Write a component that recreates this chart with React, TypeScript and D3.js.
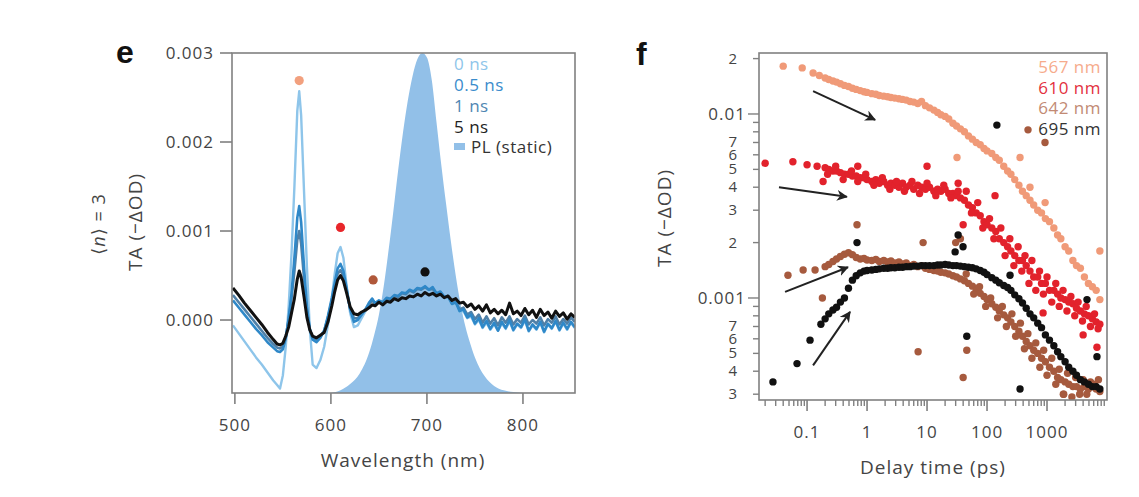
import React from 'react';
import * as d3 from 'd3';

// ---------- Panel e data (TA in units of 1e-3 −ΔOD) ----------
const wavelength = [
  498, 504, 510, 516, 522, 528, 534, 540,
  544, 547, 550, 553, 556, 559, 562, 565, 567, 569,
  572, 575, 578, 581, 585, 589, 593, 597,
  601, 604, 607, 610, 613, 616, 620, 624,
  628, 632, 636, 640, 643, 646, 650,
  654, 658, 662, 666, 670, 674, 678, 682, 686, 690, 694, 698,
  702, 706, 710, 714, 718, 722, 726, 730, 734, 738, 742, 746,
  750, 754, 758, 762, 766, 770, 774, 778, 782, 786, 790, 794,
  798, 802, 806, 810, 814, 818, 822, 826, 830, 834, 838, 842,
  846, 850, 854,
];

const ta0ns = [
  -0.06, -0.15, -0.24, -0.33, -0.42, -0.5, -0.59, -0.68,
  -0.73, -0.77, -0.62, -0.3, 0.15, 0.75, 1.5, 2.35, 2.57, 2.3,
  1.45, 0.6, -0.1, -0.5, -0.54, -0.45, -0.3, -0.05,
  0.25, 0.52, 0.75, 0.82, 0.7, 0.42, 0.08, -0.08,
  -0.06, 0.02, 0.1, 0.18, 0.24, 0.18, 0.2,
  0.18, 0.23, 0.22, 0.27, 0.26, 0.3, 0.28, 0.33, 0.31, 0.35, 0.33, 0.37,
  0.33, 0.35, 0.29, 0.3, 0.24, 0.25, 0.17, 0.18, 0.09, 0.1, 0.02, 0.04,
  -0.05, 0.0, -0.09, -0.03, -0.11, -0.05, -0.12, -0.04, -0.1, -0.02, -0.12, -0.05,
  -0.09, -0.01, -0.13, -0.06, -0.11, -0.03, -0.14, -0.05, -0.1, -0.02, -0.12, -0.04,
  -0.11, -0.03, -0.09,
];

const ta05ns = [
  0.22, 0.14, 0.06, -0.02, -0.1, -0.17, -0.25, -0.31,
  -0.35, -0.36, -0.33, -0.2, 0.02, 0.3, 0.7, 1.15, 1.28, 1.1,
  0.6, 0.15, -0.1, -0.22, -0.25, -0.2, -0.12, 0.05,
  0.25, 0.42, 0.58, 0.63, 0.55, 0.38, 0.12, -0.02,
  0.0, 0.06, 0.12, 0.2, 0.24, 0.19, 0.22,
  0.2, 0.25, 0.24, 0.28, 0.27, 0.31, 0.3, 0.34, 0.32, 0.36, 0.35, 0.38,
  0.34, 0.37, 0.3, 0.32, 0.26, 0.27, 0.18, 0.2, 0.1, 0.12, 0.03, 0.06,
  -0.04, 0.02, -0.08, -0.01, -0.1, -0.03, -0.12, -0.02, -0.09, 0.0, -0.11, -0.04,
  -0.08, 0.01, -0.12, -0.05, -0.1, -0.02, -0.13, -0.04, -0.09, -0.01, -0.11, -0.03,
  -0.1, -0.02, -0.08,
];

const ta1ns = [
  0.28, 0.2, 0.12, 0.04, -0.04, -0.12, -0.2, -0.27,
  -0.31, -0.32, -0.3, -0.19, 0.0, 0.25, 0.55, 0.9, 1.0, 0.86,
  0.47, 0.1, -0.1, -0.2, -0.22, -0.18, -0.12, 0.03,
  0.22, 0.38, 0.52, 0.56, 0.5, 0.35, 0.13, 0.02,
  0.02, 0.07, 0.12, 0.18, 0.22, 0.18, 0.21,
  0.19, 0.24, 0.23, 0.27, 0.26, 0.3, 0.29, 0.33, 0.31, 0.35, 0.34, 0.37,
  0.34, 0.35, 0.3, 0.31, 0.26, 0.26, 0.19, 0.2, 0.12, 0.14, 0.06, 0.09,
  0.01, 0.06, -0.03, 0.04, -0.04, 0.02, -0.06, 0.03, -0.03, 0.04, -0.05, 0.01,
  -0.03, 0.05, -0.05, 0.0, -0.04, 0.03, -0.06, 0.01, -0.03, 0.04, -0.05, 0.01,
  -0.04, 0.03, -0.02,
];

const ta5ns = [
  0.36, 0.28, 0.19, 0.11, 0.03, -0.05, -0.14, -0.22,
  -0.27, -0.28, -0.26, -0.18, -0.08, 0.08, 0.24, 0.46, 0.55, 0.48,
  0.26, 0.03, -0.11, -0.18, -0.2, -0.17, -0.14, -0.02,
  0.16, 0.32, 0.45, 0.5, 0.44, 0.32, 0.15, 0.07,
  0.06, 0.09, 0.11, 0.14, 0.17, 0.16, 0.2,
  0.17, 0.21, 0.2, 0.24, 0.22, 0.25, 0.24, 0.27, 0.26, 0.29, 0.27, 0.31,
  0.28, 0.3, 0.27, 0.29, 0.25, 0.27, 0.22, 0.24, 0.19, 0.2, 0.15, 0.18,
  0.12, 0.16, 0.1, 0.17, 0.08, 0.12, 0.07, 0.11, 0.06, 0.19, 0.07, 0.1,
  0.05, 0.13, 0.06, 0.11, 0.03, 0.12, 0.05, 0.09, 0.02, 0.1, 0.04, 0.08,
  0.01, 0.07, 0.03,
];

const plWavelength = [600, 610, 620, 630, 640, 645, 650, 655, 660, 665, 670, 675, 680, 685, 690, 695, 700, 705, 710, 715, 720, 725, 730, 735, 740, 745, 750, 760, 770, 780, 790, 800];
const plStatic = [-0.82, -0.79, -0.72, -0.6, -0.36, -0.17, 0.06, 0.38, 0.78, 1.22, 1.68, 2.1, 2.46, 2.74, 2.93, 3.0, 2.95, 2.7, 2.22, 1.74, 1.3, 0.88, 0.5, 0.18, -0.07, -0.26, -0.42, -0.63, -0.74, -0.79, -0.81, -0.82];

const eMarkerWl = [567, 610, 644, 698];
const eMarkerTa = [2.69, 1.04, 0.45, 0.54];

const eXTicks = [500, 600, 700, 800];
const eYTicks = [0, 1, 2, 3];
const eLegendLabels = ['0 ns', '0.5 ns', '1 ns', '5 ns'];
const plLegendLabel = 'PL (static)';

// ---------- Panel f data ----------
const delay = [
  0.2, 0.23, 0.27, 0.31, 0.36, 0.42, 0.49, 0.57, 0.66, 0.77, 0.89, 1.0,
  1.2, 1.4, 1.6, 1.9, 2.2, 2.5, 2.9, 3.4, 3.9, 4.5, 5.2, 6.0,
  7.0, 8.1, 9.4, 11, 13, 15, 17, 20, 23, 27, 31, 36,
  42, 49, 57, 66, 77, 89, 100, 120, 140, 160, 190, 220,
  250, 290, 340, 390, 450, 520, 600, 700, 810, 940, 1100, 1300,
  1500, 1700, 2000, 2300, 2700, 3100, 3600, 4200, 4900, 5700, 6600, 7600,
];

const f567 = [
  0.0157, 0.0154, 0.0151, 0.0149, 0.0146, 0.0143, 0.0141, 0.0138, 0.0136, 0.0134, 0.0132, 0.0131,
  0.0129, 0.0128, 0.0126, 0.0125, 0.0124, 0.0123, 0.0122, 0.0121, 0.012, 0.0119, 0.0117, 0.0116,
  0.0114, 0.0117, 0.0111, 0.0108, 0.0105, 0.0102, 0.0099, 0.0097, 0.0094, 0.0089, 0.0086, 0.0083,
  0.008, 0.0076, 0.0073, 0.007, 0.0068, 0.0065, 0.0063, 0.0061, 0.0058, 0.0056, 0.0052, 0.0049,
  0.0047, 0.0044, 0.0041, 0.0038, 0.0036, 0.0034, 0.0032, 0.003, 0.0029, 0.0027, 0.0026, 0.0024,
  0.0022, 0.0021, 0.0019, 0.0018, 0.0016, 0.0015, 0.00145, 0.0013, 0.0012, 0.00115, 0.0011, 0.00098,
];
const f610 = [
  0.0051, 0.005, 0.0049, 0.0049, 0.0048, 0.0047, 0.0047, 0.0046, 0.0046, 0.0045, 0.0045, 0.0044,
  0.0043, 0.0044, 0.0042, 0.0043, 0.0041, 0.0042, 0.0041, 0.004, 0.0042, 0.004, 0.0041, 0.0039,
  0.0041, 0.004, 0.0039, 0.004, 0.0038, 0.0039, 0.0038, 0.0039, 0.0037, 0.0037, 0.0036, 0.0035,
  0.0034, 0.0032, 0.0031, 0.0029, 0.0028, 0.0026, 0.0025, 0.0024, 0.0023, 0.0021, 0.002, 0.0019,
  0.0018, 0.0017, 0.0016, 0.0016, 0.0015, 0.0014, 0.0013, 0.0013, 0.0012, 0.0012, 0.0011, 0.0011,
  0.00105, 0.001, 0.00098, 0.00095, 0.00093, 0.00088, 0.00085, 0.00082, 0.0008, 0.00077, 0.00074, 0.00072,
];
const f642 = [
  0.00148, 0.00152, 0.00158, 0.00163, 0.00168, 0.00173, 0.00176, 0.00172, 0.00166, 0.00163, 0.00164, 0.00161,
  0.0016, 0.00162, 0.00158, 0.0016, 0.00157, 0.00159, 0.00155, 0.00157, 0.00153, 0.00155, 0.0015, 0.00152,
  0.00148, 0.0015, 0.00145, 0.00143, 0.00141, 0.0014, 0.00138, 0.00137, 0.00135, 0.00132, 0.0013, 0.00127,
  0.00124, 0.0012, 0.00116, 0.0011, 0.00106, 0.00102, 0.00098, 0.00093, 0.00089, 0.00085, 0.00081, 0.00078,
  0.00074, 0.0007, 0.00066, 0.00062, 0.00058, 0.00055, 0.00052, 0.0005, 0.00047, 0.00045, 0.00042, 0.0004,
  0.00037, 0.00036, 0.00035, 0.00034, 0.00033, 0.00033, 0.00032, 0.00033, 0.00032, 0.00033, 0.00032, 0.00031,
];
const f695 = [
  0.00077, 0.00082, 0.00086, 0.00089, 0.00095, 0.001, 0.00113, 0.00125, 0.00132, 0.00137, 0.0014, 0.00141,
  0.00142, 0.00143, 0.00144, 0.00145, 0.00145, 0.00146, 0.00146, 0.00147, 0.00147, 0.00148, 0.00148, 0.00149,
  0.00149, 0.0015, 0.0015, 0.0015, 0.0015, 0.00151, 0.00151, 0.00152, 0.00151, 0.0015, 0.0015, 0.00149,
  0.00148, 0.00147, 0.00146, 0.00144, 0.00141, 0.00138, 0.00134, 0.00129, 0.00125, 0.00121, 0.00117, 0.00114,
  0.0011, 0.00104, 0.00099, 0.00094, 0.00088, 0.00082, 0.00078, 0.00073, 0.00069, 0.00063, 0.00059, 0.00055,
  0.00051, 0.00048, 0.00045, 0.00042, 0.0004, 0.00038, 0.00036, 0.00035, 0.00034, 0.00033, 0.00033, 0.00032,
];

// extra (early, scattered and outlier) points: [delay ps, TA]
const f567Extra: [number, number][] = [
  [0.04, 0.0182], [0.083, 0.0178], [0.126, 0.0167], [0.16, 0.0162],
  [31.6, 0.0058], [355, 0.0058], [520, 0.004], [930, 0.0033], [7600, 0.0018],
];
const f610Extra: [number, number][] = [
  [0.02, 0.0054], [0.058, 0.0055], [0.1, 0.0053], [0.147, 0.0052], [0.185, 0.0043],
  [0.7, 0.0052], [10, 0.0052], [33, 0.0042], [40, 0.0025], [136, 0.0036],
  [860, 0.00083], [4000, 0.00063], [6800, 0.00054],
  [0.22, 0.0047], [0.3, 0.0052], [0.4, 0.0044], [0.55, 0.0049], [0.7, 0.0043], [0.95, 0.0047],
  [1.3, 0.0041], [1.8, 0.0045], [2.4, 0.0039], [3.1, 0.0043], [4.2, 0.0038], [5.6, 0.0043],
  [7.5, 0.0037], [10, 0.0042], [14, 0.0036], [19, 0.0041], [25, 0.0035], [33, 0.0038],
  [45, 0.0038], [55, 0.0029], [70, 0.0033], [85, 0.0024], [110, 0.0027], [130, 0.0021],
  [170, 0.0024], [200, 0.0017], [240, 0.0021], [280, 0.0015], [330, 0.0019], [380, 0.0014],
  [430, 0.0017], [500, 0.0012], [560, 0.0016], [650, 0.0011], [750, 0.0014], [870, 0.00105],
  [1000, 0.0013], [1200, 0.00095], [1400, 0.0012], [1600, 0.0009], [1850, 0.0011], [2150, 0.00085],
  [2500, 0.00102], [2900, 0.0008], [3300, 0.00095], [3900, 0.00075], [4500, 0.0009], [5300, 0.0007],
  [6200, 0.00082], [7100, 0.00068],
];
const f642Extra: [number, number][] = [
  [0.048, 0.00133], [0.086, 0.00142], [0.136, 0.00142], [0.18, 0.001],
  [0.68, 0.0025], [8.6, 0.002], [30, 0.002], [36, 0.0021], [7.1, 0.00051], [46, 0.00052],
  [40, 0.00037], [482, 0.0082], [926, 0.007], [1870, 0.0003],
  [45, 0.00135], [60, 0.00105], [75, 0.00115], [95, 0.0009], [115, 0.001], [150, 0.00078],
  [180, 0.0009], [210, 0.0007], [260, 0.00082], [300, 0.00062], [360, 0.00073], [420, 0.00053],
  [480, 0.00064], [560, 0.00047], [650, 0.00057], [760, 0.00042], [880, 0.00052], [1000, 0.00038],
  [1200, 0.00047], [1400, 0.00034], [1600, 0.00041], [1900, 0.0003], [2200, 0.00039], [2600, 0.00029],
  [3000, 0.00037], [3500, 0.0003], [4000, 0.00036], [4600, 0.0003], [5300, 0.00035], [6200, 0.00034],
  [7200, 0.00036],
];
const f695Extra: [number, number][] = [
  [0.027, 0.00035], [0.068, 0.00044], [0.112, 0.00059], [0.17, 0.00072],
  [0.68, 0.002], [146, 0.0087], [33, 0.0022], [29.4, 0.00178], [39.8, 0.0019],
  [242, 0.00133], [4640, 0.00098], [46, 0.00062], [355, 0.00032], [6800, 0.00048],
];

const fLegendLabels = ['567 nm', '610 nm', '642 nm', '695 nm'];

// arrows: [[t0, v0], [t1, v1]]
const fArrows: [[number, number], [number, number]][] = [
  [[0.126, 0.0133], [1.36, 0.0093]],
  [[0.034, 0.004], [0.46, 0.00355]],
  [[0.043, 0.00108], [0.48, 0.00147]],
  [[0.126, 0.00043], [0.52, 0.00084]],
];

const fXMajor = [0.1, 1, 10, 100, 1000];
const fXLabels = ['0.1', '1', '10', '100', '1000'];
const fYTicks = [0.0003, 0.0004, 0.0005, 0.0006, 0.0007, 0.0008, 0.0009, 0.001, 0.002, 0.003, 0.004, 0.005, 0.006, 0.007, 0.008, 0.009, 0.01, 0.02];
const fYLabels = ['3', '4', '5', '6', '7', '', '', '0.001', '2', '3', '4', '5', '6', '7', '', '', '0.01', '2'];

// ---------- styles ----------
const FONT = '"Open Sans", "DejaVu Sans", sans-serif';
const eColors = ['#8ec5ea', '#2f88c8', '#4f80a8', '#111111'];
const eLegendColors = ['#8ec5ea', '#3a8ccc', '#4f86b2', '#222222'];
const plColor = '#92c0e8';
const markerColors = ['#f2a07e', '#e8262a', '#b0583a', '#111111'];
const fColors = ['#f09a78', '#e2222c', '#a65a3e', '#111111'];
const fLegendColors = ['#f6ab8c', '#e33040', '#c28a74', '#333333'];
const frameColor = '#808080';
const textColor = '#444444';

const E = { l: 232, r: 575, t: 53, b: 393 };
const F = { l: 759, r: 1107, t: 53, b: 400 };

export default function App() {
  const xE = d3.scaleLinear().domain([497, 854.2]).range([E.l, E.r]);
  const yE = d3.scaleLinear().domain([-0.82, 3.0]).range([E.b, E.t]);

  const lineE = (vals: number[]) =>
    d3.line<number>()
      .x((_, i) => xE(wavelength[i]))
      .y((d) => yE(d))
      .curve(d3.curveLinear)(vals) as string;

  const plArea = d3.area<number>()
    .x((_, i) => xE(plWavelength[i]))
    .y0(yE(-0.82))
    .y1((d) => yE(d))
    .curve(d3.curveMonotoneX)(plStatic) as string;

  const xF = d3.scaleLog().domain([0.0158, 10000]).range([F.l, F.r]);
  const yF = d3.scaleLog().domain([0.000279, 0.02145]).range([F.b, F.t]);

  const fMinorX: number[] = [];
  for (let e = -2; e <= 3; e++) {
    for (let k = 1; k <= 9; k++) {
      const v = k * Math.pow(10, e);
      if (v >= 0.0158 && v < 10000 && !fXMajor.some((m) => Math.abs(m - v) / m < 1e-6)) fMinorX.push(v);
    }
  }

  const fSeries = [
    { vals: f567, extra: f567Extra },
    { vals: f610, extra: f610Extra },
    { vals: f642, extra: f642Extra },
    { vals: f695, extra: f695Extra },
  ];

  const eSeriesOrder = [
    { vals: ta0ns, c: eColors[0], w: 2.4 },
    { vals: ta1ns, c: eColors[2], w: 2.6 },
    { vals: ta05ns, c: eColors[1], w: 2.6 },
    { vals: ta5ns, c: eColors[3], w: 3 },
  ];

  return (
    <svg width={1139} height={497} style={{ position: 'absolute', left: 0, top: 0, background: '#fff' }} fontFamily={FONT}>
      <defs>
        <clipPath id="clipE">
          <rect x={E.l} y={E.t} width={E.r - E.l} height={E.b - E.t} />
        </clipPath>
        <clipPath id="clipF">
          <rect x={F.l} y={F.t} width={F.r - F.l} height={F.b - F.t} />
        </clipPath>
        <marker id="ah" viewBox="0 0 10 10" refX="9" refY="5" markerWidth="5.5" markerHeight="5.5" orient="auto">
          <path d="M0,0 L10,5 L0,10 L3,5 z" fill="#222" />
        </marker>
      </defs>

      {/* ================= Panel e ================= */}
      <text x={116} y={63} fontSize={32} fontWeight="bold" fontFamily='"Liberation Sans", Arial, sans-serif' fill="#111">e</text>

      <g clipPath="url(#clipE)">
        <path d={plArea} fill={plColor} />
        {eSeriesOrder.map((s, i) => (
          <path key={i} d={lineE(s.vals)} fill="none" stroke={s.c} strokeWidth={s.w} strokeLinejoin="round" />
        ))}
      </g>

      {eMarkerWl.map((w, i) => (
        <circle key={i} cx={xE(w)} cy={yE(eMarkerTa[i])} r={4.6} fill={markerColors[i]} />
      ))}

      <rect x={E.l} y={E.t} width={E.r - E.l} height={E.b - E.t} fill="none" stroke={frameColor} strokeWidth={1.6} />

      {eXTicks.map((t) => (
        <g key={t}>
          <line x1={xE(t)} x2={xE(t)} y1={E.b} y2={E.b + 11} stroke={frameColor} strokeWidth={1.6} />
          <text x={xE(t)} y={431} textAnchor="middle" fontSize={17} letterSpacing={1} fill={textColor}>{t}</text>
        </g>
      ))}
      {eYTicks.map((t) => (
        <g key={t}>
          <line x1={E.l - 12} x2={E.l} y1={yE(t)} y2={yE(t)} stroke={frameColor} strokeWidth={1.6} />
          <text x={214} y={yE(t) + 6} textAnchor="end" fontSize={17} letterSpacing={1} fill={textColor}>{(t / 1000).toFixed(3)}</text>
        </g>
      ))}
      <text x={403} y={467} textAnchor="middle" fontSize={19} letterSpacing={1} fill={textColor}>Wavelength (nm)</text>
      <text transform={`translate(142,222) rotate(-90)`} textAnchor="middle" fontSize={19} letterSpacing={1} fill={textColor}>TA (−ΔOD)</text>
      <text transform={`translate(105,224) rotate(-90)`} textAnchor="middle" fontSize={18} letterSpacing={1} fill={textColor}>
        ⟨<tspan fontStyle="italic">n</tspan>⟩ = 3
      </text>

      {eLegendLabels.map((l, i) => (
        <text key={l} x={454} y={70 + i * 21} fontSize={17} letterSpacing={0.5} fill={eLegendColors[i]}>{l}</text>
      ))}
      <rect x={454} y={143} width={11} height={7} fill={plColor} />
      <text x={471} y={153} fontSize={17} letterSpacing={0.5} fill="#333">{plLegendLabel}</text>

      {/* ================= Panel f ================= */}
      <text x={636} y={65} fontSize={32} fontWeight="bold" fontFamily='"Liberation Sans", Arial, sans-serif' fill="#111">f</text>

      <g clipPath="url(#clipF)">
        {fSeries.map((s, si) => (
          <g key={si} fill={fColors[si]}>
            {s.vals.map((v, i) => (
              <circle key={'v' + i} cx={xF(delay[i])} cy={yF(v)} r={3.7} />
            ))}
            {s.extra.map((p, i) => (
              <circle key={'x' + i} cx={xF(p[0])} cy={yF(p[1])} r={3.7} />
            ))}
          </g>
        ))}
      </g>

      {fArrows.map((a, i) => (
        <line key={i} x1={xF(a[0][0])} y1={yF(a[0][1])} x2={xF(a[1][0])} y2={yF(a[1][1])} stroke="#222" strokeWidth={2} markerEnd="url(#ah)" />
      ))}

      <rect x={F.l} y={F.t} width={F.r - F.l} height={F.b - F.t} fill="none" stroke={frameColor} strokeWidth={1.6} />

      {fMinorX.map((t, i) => (
        <line key={i} x1={xF(t)} x2={xF(t)} y1={F.b} y2={F.b + 6} stroke={frameColor} strokeWidth={1.4} />
      ))}
      {fXMajor.map((t, i) => (
        <g key={t}>
          <line x1={xF(t)} x2={xF(t)} y1={F.b} y2={F.b + 11} stroke={frameColor} strokeWidth={1.6} />
          <text x={xF(t)} y={438} textAnchor="middle" fontSize={17} letterSpacing={1} fill={textColor}>{fXLabels[i]}</text>
        </g>
      ))}
      {fYTicks.map((t, i) => {
        const major = fYLabels[i].startsWith('0.');
        return (
          <g key={t}>
            <line x1={F.l - (major ? 11 : 6)} x2={F.l} y1={yF(t)} y2={yF(t)} stroke={frameColor} strokeWidth={1.4} />
            {fYLabels[i] && (
              <text x={major ? 746 : 737} y={yF(t) + (major ? 6 : 5)} textAnchor="end" fontSize={major ? 17 : 15} letterSpacing={major ? 1 : 0} fill={textColor}>{fYLabels[i]}</text>
            )}
          </g>
        );
      })}
      <text x={933} y={474} textAnchor="middle" fontSize={19} letterSpacing={1} fill={textColor}>Delay time (ps)</text>
      <text transform={`translate(671,218) rotate(-90)`} textAnchor="middle" fontSize={19} letterSpacing={1} fill={textColor}>TA (−ΔOD)</text>

      {fLegendLabels.map((l, i) => (
        <text key={l} x={1101} y={73 + i * 20.5} textAnchor="end" fontSize={17} letterSpacing={0.5} fill={fLegendColors[i]}>{l}</text>
      ))}
    </svg>
  );
}
